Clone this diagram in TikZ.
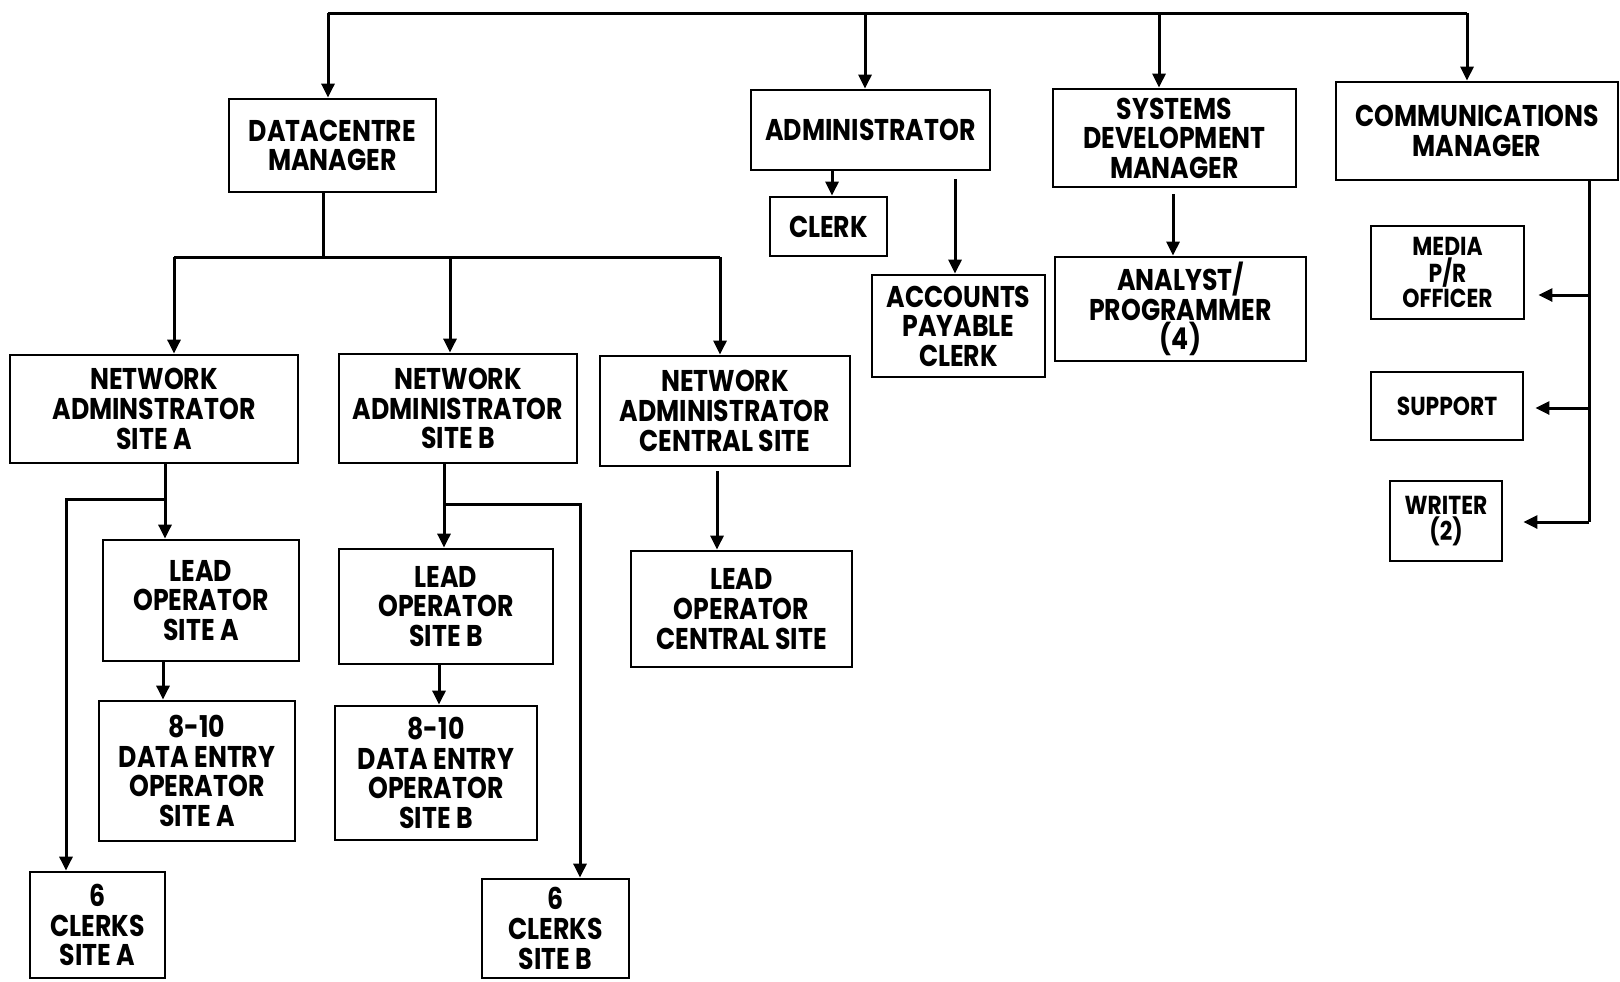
\documentclass[tikz,border=0pt]{standalone}
\usepackage{fontspec}
\setmainfont{Poppins}[FakeStretch=0.84]
\usetikzlibrary{arrows.meta,calc}
\tikzset{
  box/.style={draw, line width=1.4pt, inner sep=0pt, align=center, font=\fontsize{15}{14.8}\selectfont\bfseries},
  smallbox/.style={box, font=\fontsize{13}{11.6}\selectfont\bfseries},
  conn/.style={line width=1.5pt},
  arr/.style={conn, -{Triangle[length=7pt,width=6.5pt]}},
}
\begin{document}
\begin{tikzpicture}[x=0.5pt,y=-0.5pt]
\useasboundingbox (0,0) rectangle (1620,981);
% boxes
\node[box, minimum width=103.5pt, minimum height=46.5pt] (dc) at (332.5,145.5) {DATACENTRE\\MANAGER};
\node[box, minimum width=119.5pt, minimum height=40pt] (ad) at (870.5,130) {ADMINISTRATOR};
\node[box, minimum width=58.5pt, minimum height=29.5pt] (ck) at (828.5,226.5) {CLERK};
\node[box, minimum width=86.5pt, minimum height=51pt] (ap) at (958.5,326) {ACCOUNTS\\PAYABLE\\CLERK};
\node[box, minimum width=121.5pt, minimum height=49pt] (sd) at (1174.5,138) {SYSTEMS\\DEVELOPMENT\\MANAGER};
\node[box, minimum width=125.5pt, minimum height=52pt] (an) at (1180.5,309) {ANALYST/\\PROGRAMMER\\(4)};
\node[box, minimum width=141pt, minimum height=49pt] (cm) at (1477,131) {COMMUNICATIONS\\MANAGER};
\node[smallbox, minimum width=76.5pt, minimum height=46.5pt] (me) at (1447.5,272.5) {MEDIA\\P/R\\OFFICER};
\node[smallbox, minimum width=76pt, minimum height=34pt] (su) at (1447,406) {SUPPORT};
\node[smallbox, minimum width=56pt, minimum height=40pt] (wr) at (1446,521) {WRITER\\(2)};
\node[box, minimum width=144pt, minimum height=54pt] (na) at (154,409) {NETWORK\\ADMINSTRATOR\\SITE A};
\node[box, minimum width=119pt, minimum height=54.5pt] (nb) at (458,408.5) {NETWORK\\ADMINISTRATOR\\SITE B};
\node[box, minimum width=125pt, minimum height=55pt] (nc) at (725,411) {NETWORK\\ADMINISTRATOR\\CENTRAL SITE};
\node[box, minimum width=98pt, minimum height=60.5pt] (la) at (201,600.5) {LEAD\\OPERATOR\\SITE A};
\node[box, minimum width=107pt, minimum height=57.5pt] (lb) at (446,606.5) {LEAD\\OPERATOR\\SITE B};
\node[box, minimum width=110.5pt, minimum height=58pt] (lc) at (741.5,609) {LEAD\\OPERATOR\\CENTRAL SITE};
\node[box, minimum width=98pt, minimum height=70pt] (da) at (197,771) {8-10\\DATA ENTRY\\OPERATOR\\SITE A};
\node[box, minimum width=101pt, minimum height=67pt] (db) at (436,773) {8-10\\DATA ENTRY\\OPERATOR\\SITE B};
\node[box, minimum width=67.5pt, minimum height=53pt] (ca) at (97.5,925) {6\\CLERKS\\SITE A};
\node[box, minimum width=73.5pt, minimum height=49.5pt] (cb) at (555.5,928.5) {6\\CLERKS\\SITE B};
% top bus
\coordinate (busL) at (328,13);
\coordinate (busR) at (1467,13);
\draw[conn] (busL) -- (busR);
\draw[arr] (busL) -- (328,0 |- dc.north);
\draw[arr] (865,13) -- (865,0 |- ad.north);
\draw[arr] (1159,13) -- (1159,0 |- sd.north);
\draw[arr] (busR) -- (1467,0 |- cm.north);
% datacentre bus
\draw[conn] (323,0 |- dc.south) -- (323,257);
\draw[conn] (174,257) -- (720,257);
\draw[arr] (174,257) -- (174,0 |- na.north);
\draw[arr] (450,257) -- (450,0 |- nb.north);
\draw[arr] (720,257) -- (720,0 |- nc.north);
% site A
\draw[arr] (165,0 |- na.south) -- (165,0 |- la.north);
\draw[arr] (165,499) -- (66,499) -- (66,0 |- ca.north);
\draw[arr] (163,0 |- la.south) -- (163,0 |- da.north);
% site B
\draw[arr] (444,0 |- nb.south) -- (444,0 |- lb.north);
\draw[arr] (444,504) -- (580,504) -- (580,0 |- cb.north);
\draw[arr] (439,0 |- lb.south) -- (439,0 |- db.north);
% central
\draw[arr] ($(717,0 |- nc.south)+(0,4)$) -- (717,0 |- lc.north);
% administrator
\draw[arr] (832,0 |- ad.south) -- (832,0 |- ck.north);
\draw[arr] ($(955,0 |- ad.south)+(0,8)$) -- (955,0 |- ap.north);
% systems
\draw[arr] ($(1173,0 |- sd.south)+(0,6)$) -- (1173,0 |- an.north);
% communications
\draw[conn] (1589,0 |- cm.south) -- (1589,522);
\draw[arr] (1589,295) -- ($(me.east |- 0,295)+(13,0)$);
\draw[arr] (1589,408) -- ($(su.east |- 0,408)+(11,0)$);
\draw[arr] (1589,522) -- ($(wr.east |- 0,522)+(20,0)$);
\end{tikzpicture}
\end{document}
